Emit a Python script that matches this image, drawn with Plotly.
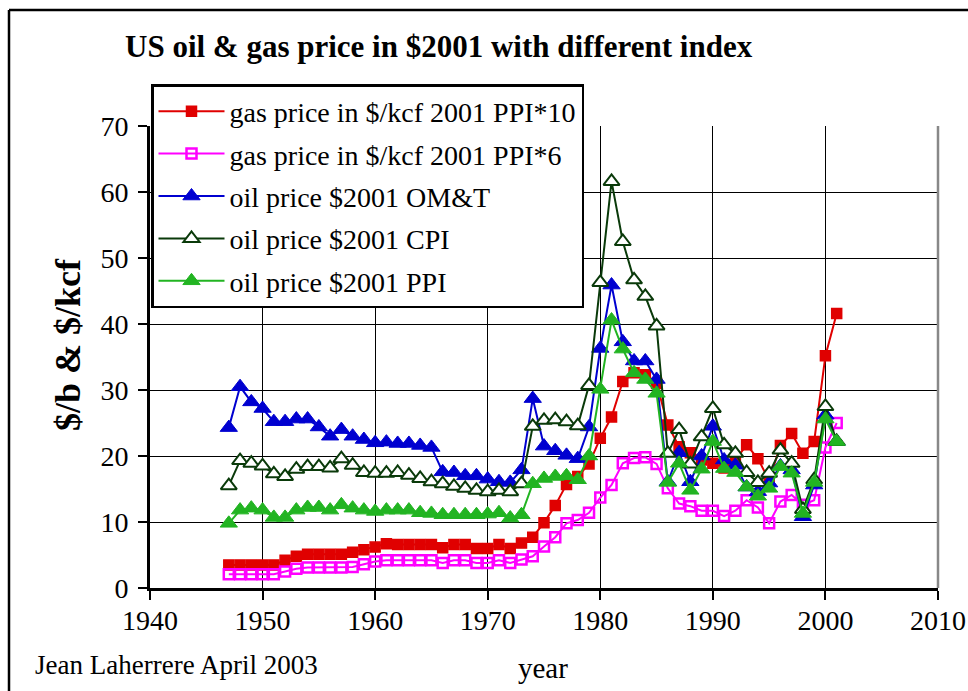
import plotly.graph_objects as go

# Years covered by every series
years = list(range(1947, 2002))

# Gas price in $/kcf, $2001 via PPI, scaled x10 and x6
gas_ppi10 = [3.5, 3.5, 3.5, 3.5, 3.5, 4.2, 4.8, 5.1, 5.1, 5.1, 5.1, 5.4, 5.8, 6.2,
             6.7, 6.6, 6.6, 6.6, 6.6, 6.1, 6.6, 6.6, 6.0, 6.0,
             6.6, 6.0, 6.8, 7.7, 9.9, 12.5, 15.7, 16.9, 18.8, 22.7,
             25.9, 31.3, 32.6, 32.3, 31.0, 24.7, 21.4, 20.5, 19.4, 18.9,
             18.2, 19.4, 21.7, 19.6, 16.3, 21.6, 23.4, 20.4, 22.2, 35.2,
             41.6]
gas_ppi6 = [2.1, 2.1, 2.1, 2.1, 2.1, 2.5, 2.9, 3.1, 3.1, 3.1, 3.1, 3.2, 3.6, 4.0,
            4.2, 4.2, 4.2, 4.2, 4.2, 3.8, 4.2, 4.2, 3.8, 3.8,
            4.2, 3.8, 4.3, 4.8, 6.3, 7.7, 9.8, 10.3, 11.4, 13.7,
            15.6, 18.9, 19.7, 19.8, 18.8, 15.1, 12.8, 12.4, 11.7, 11.7,
            10.9, 11.7, 13.3, 12.2, 9.8, 13.1, 14.1, 12.6, 13.3, 21.3,
            25.0]

# Oil price in $/b, $2001 with three deflators
oil_omt = [24.3, 30.5, 28.2, 27.2, 25.2, 25.2, 25.6, 25.6, 24.4, 23.0, 24.0, 23.0, 22.5, 22.0,
           22.1, 21.9, 21.9, 21.6, 21.3, 17.6, 17.5, 17.0, 17.0, 16.5,
           16.1, 16.0, 17.9, 28.7, 21.5, 20.8, 20.1, 19.6, 24.4, 36.3,
           45.9, 37.3, 34.4, 34.4, 31.6, 16.1, 20.5, 16.1, 20.0, 24.5,
           19.4, 18.6, 15.3, 14.6, 15.9, 18.5, 17.9, 10.8, 15.6, 26.2,
           22.2]
oil_cpi = [15.5, 19.3, 18.9, 18.5, 17.3, 16.9, 18.0, 18.4, 18.4, 18.2, 19.6, 18.6, 17.5, 17.4,
           17.4, 17.5, 17.1, 16.6, 16.1, 15.8, 15.4, 15.1, 14.8, 14.6,
           14.8, 14.6, 15.8, 24.5, 25.4, 25.5, 25.2, 24.6, 30.7, 46.3,
           61.6, 52.5, 46.7, 44.2, 39.7, 20.4, 24.0, 18.8, 22.9, 27.2,
           21.7, 20.4, 17.5, 16.0, 17.4, 20.9, 18.9, 11.9, 16.4, 27.5,
           22.2]
oil_ppi = [9.8, 11.8, 12.1, 11.8, 10.7, 10.7, 11.8, 12.2, 12.2, 11.8, 12.6, 12.1, 11.8, 11.6,
           11.8, 11.8, 11.8, 11.4, 11.3, 11.1, 11.1, 11.1, 11.1, 11.2,
           11.4, 10.6, 11.1, 15.8, 16.6, 16.9, 17.0, 16.4, 20.0, 30.1,
           40.6, 36.2, 32.6, 31.6, 29.5, 16.0, 18.9, 14.8, 18.0, 22.2,
           18.1, 17.5, 15.3, 13.9, 15.1, 18.4, 17.4, 11.3, 16.0, 25.6,
           22.2]

series_names = [
    "gas price in $/kcf 2001 PPI*10",
    "gas price in $/kcf 2001 PPI*6",
    "oil price $2001 OM&T",
    "oil price $2001 CPI",
    "oil price $2001 PPI",
]

x_ticks = [1940, 1950, 1960, 1970, 1980, 1990, 2000, 2010]
y_ticks = [0, 10, 20, 30, 40, 50, 60, 70]

SERIF = "Liberation Serif, Times New Roman, serif"

styles = [
    dict(values=gas_ppi10, color="#E00000",
         marker=dict(symbol="square", size=10, color="#E00000",
                     line=dict(color="#E00000", width=1.5))),
    dict(values=gas_ppi6, color="#FF00FF",
         marker=dict(symbol="square-open", size=10, color="#FF00FF",
                     line=dict(color="#FF00FF", width=2.5))),
    dict(values=oil_omt, color="#0000D0",
         marker=dict(symbol="triangle-up", size=15, color="#0000D0",
                     line=dict(color="#0000D0", width=1))),
    dict(values=oil_cpi, color="#0A3A0A",
         marker=dict(symbol="triangle-up", size=14, color="white",
                     line=dict(color="#0A3A0A", width=2))),
    dict(values=oil_ppi, color="#22B422",
         marker=dict(symbol="triangle-up", size=15, color="#22B422",
                     line=dict(color="#22B422", width=1))),
]

fig = go.Figure()
for i, (name, st) in enumerate(zip(series_names, styles)):
    fig.add_trace(go.Scatter(
        x=years, y=st["values"], name=name, mode="lines+markers",
        line=dict(color=st["color"], width=2),
        marker=st["marker"], legendgroup=f"g{i}",
    ))

W, H = 968, 691
L, R, T, B = 150, 30, 126, 103
pw, ph = W - L - R, H - T - B


def px_x(x):
    return (x - L) / pw


def px_y(y):
    return (H - B - y) / ph


axis_common = dict(
    showgrid=True, gridcolor="black", gridwidth=1,
    showline=True, linecolor="black", linewidth=3,
    ticks="outside", ticklen=9, tickwidth=2, tickcolor="black",
    tickfont=dict(family=SERIF, size=28), zeroline=False, automargin=False,
)

fig.update_layout(
    width=W, height=H,
    margin=dict(l=L, r=R, t=T, b=B, autoexpand=False),
    paper_bgcolor="white", plot_bgcolor="white",
    font=dict(family=SERIF, size=28, color="black"),
    showlegend=True,
    legend=dict(
        x=px_x(151), y=px_y(84), xanchor="left", yanchor="top",
        bgcolor="white", bordercolor="black", borderwidth=2.5,
        font=dict(family=SERIF, size=28, color="black"),
        tracegroupgap=3, itemwidth=66,
    ),
    xaxis=dict(range=[1940, 2010], tickvals=x_ticks,
               ticktext=[str(v) for v in x_ticks], ticklabelstandoff=-4,
               **axis_common),
    yaxis=dict(range=[0, 70], tickvals=y_ticks,
               ticktext=[str(v) for v in y_ticks], ticklabelstandoff=4,
               **axis_common),
    annotations=[
        dict(text="<b>US oil & gas price in $2001 with different index</b>",
             xref="paper", yref="paper", x=px_x(439), y=px_y(46),
             xanchor="center", yanchor="middle", showarrow=False,
             font=dict(family=SERIF, size=31)),
        dict(text="<b>$/b & $/kcf</b>", textangle=-90,
             xref="paper", yref="paper", x=px_x(68), y=px_y(345),
             xanchor="center", yanchor="middle", showarrow=False,
             font=dict(family=SERIF, size=36)),
        dict(text="year", xref="paper", yref="paper", x=px_x(543), y=px_y(668),
             xanchor="center", yanchor="middle", showarrow=False,
             font=dict(family=SERIF, size=29)),
        dict(text="Jean Laherrere April 2003", xref="paper", yref="paper",
             x=px_x(33), y=px_y(665), xanchor="left", yanchor="middle",
             showarrow=False, font=dict(family=SERIF, size=27)),
    ],
    shapes=[
        # right edge of the plotting area
        dict(type="line", xref="paper", yref="paper", x0=1, x1=1, y0=0, y1=1,
             line=dict(color="#888888", width=2.5)),
        # outer frame of the figure
        dict(type="line", xref="paper", yref="paper",
             x0=px_x(9), x1=px_x(968), y0=px_y(10), y1=px_y(10),
             line=dict(color="black", width=2.5)),
        dict(type="line", xref="paper", yref="paper",
             x0=px_x(9), x1=px_x(9), y0=px_y(10), y1=px_y(691),
             line=dict(color="black", width=2.5)),
    ],
)

fig.write_html("out.html")
